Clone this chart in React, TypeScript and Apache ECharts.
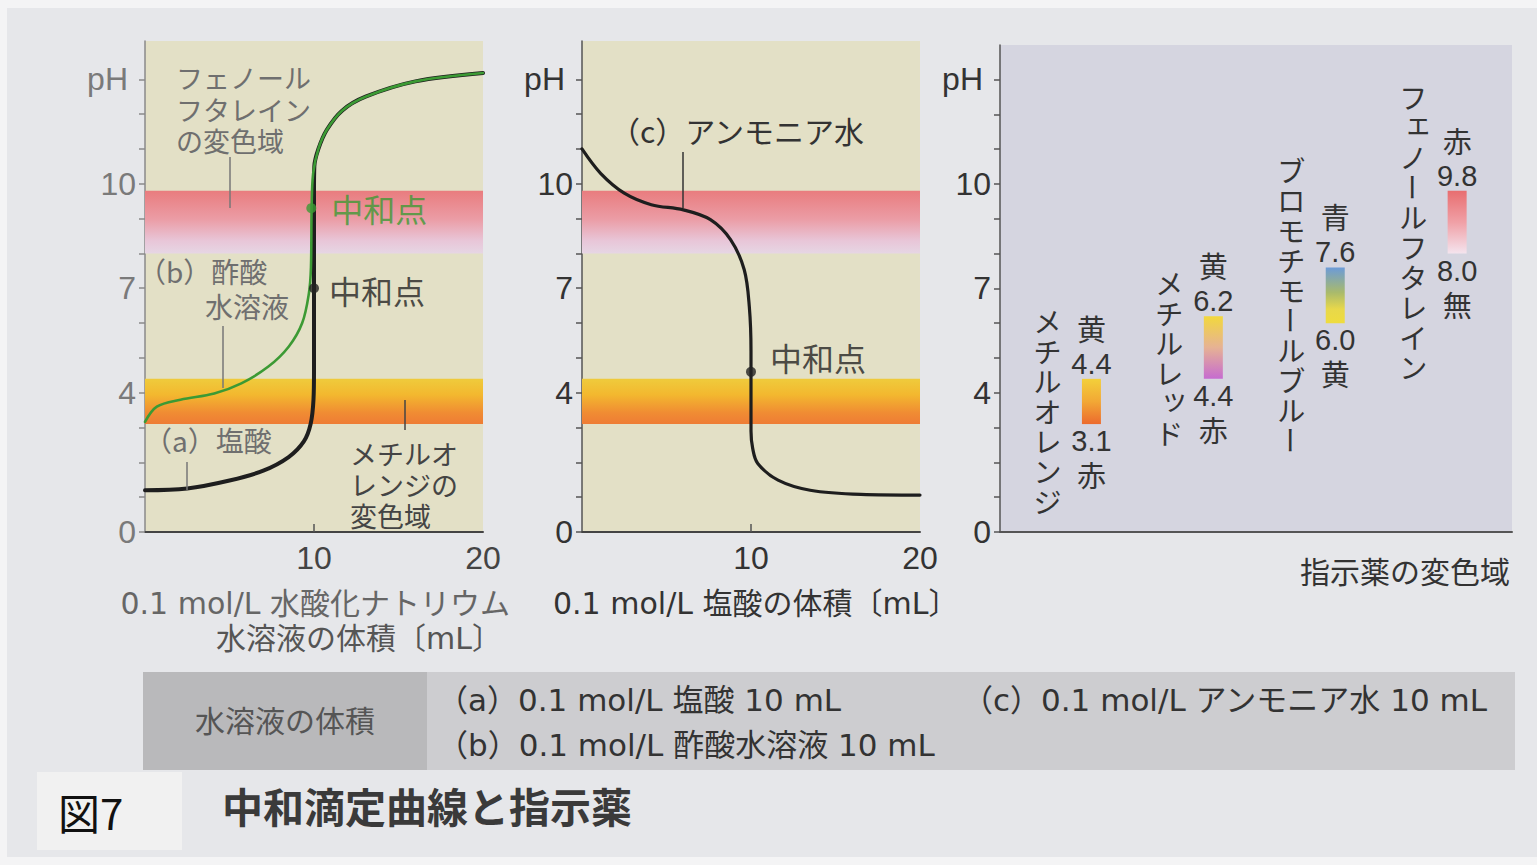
import React, { useEffect, useRef } from 'react';
import * as echarts from 'echarts';

const FONT = "'Liberation Sans', 'Noto Sans CJK JP', sans-serif";
const FONT_TEXT = "'DejaVu Sans', 'Noto Sans CJK JP', sans-serif";
const CJK = "'Noto Sans CJK JP', sans-serif";

// (a) 0.1 mol/L HCl titrated with 0.1 mol/L NaOH
const volA = [0, 2.5, 5, 7, 8.5, 9.4, 9.8, 9.97, 10, 10, 10.02, 10.26, 10.76, 11.66, 13.05, 16, 20];
const phA = [1.2, 1.25, 1.48, 1.76, 2.15, 2.6, 3.1, 3.8, 4.6, 9.8, 10.5, 11.0, 11.55, 12.1, 12.5, 12.94, 13.18];
// (b) 0.1 mol/L acetic acid titrated with NaOH
const volB = [0, 0.7, 2.1, 4.1, 5.7, 7.3, 8.5, 9.3, 9.7, 9.82, 9.86, 9.95, 10.26, 10.76, 11.66, 13.05, 16, 20];
const phB = [3.16, 3.6, 3.8, 3.98, 4.27, 4.75, 5.32, 6.0, 6.86, 7.6, 9.3, 10.3, 11.0, 11.55, 12.1, 12.5, 12.94, 13.18];
// (c) 0.1 mol/L ammonia titrated with 0.1 mol/L HCl
const volC = [0, 1.1, 2.5, 4.1, 6, 7.6, 8.8, 9.6, 9.9, 10, 10, 10.1, 10.4, 11.6, 13.5, 16.5, 20];
const phC = [11.0, 10.3, 9.73, 9.4, 9.25, 8.97, 8.39, 7.53, 6.47, 5.2, 2.9, 2.4, 1.97, 1.49, 1.2, 1.08, 1.06];

// neutralization points
const eqB = [9.84, 9.3];
const eqA = [10, 7];
const eqC = [10, 4.6];
const eqLabel = '中和点';

// indicator bands drawn across the titration panels
const bandLow = [3.1, 8.0];
const bandHigh = [4.4, 9.8];

// indicators (right panel)
const indicatorNames = ['メチルオレンジ', 'メチルレッド', 'ブロモチモールブルー', 'フェノールフタレイン'];
const indicatorLow = [3.1, 4.4, 6.0, 8.0];
const indicatorHigh = [4.4, 6.2, 7.6, 9.8];
const indicatorLowColorName = ['赤', '赤', '黄', '無'];
const indicatorHighColorName = ['黄', '黄', '青', '赤'];

// axes
const yTickValues = [0, 1, 2, 3, 4, 5, 6, 7, 8, 9, 10, 11, 12, 13];
const yLabelValues = [0, 4, 7, 10, 13];
const yNameValue = 13;
const yName = 'pH';
const xLabelValues = [10, 20];
const xTickValues = [10];

// styles
const bandGradients = [
  [
    { offset: 0, color: '#efcb3c' },
    { offset: 0.35, color: '#f3b82f' },
    { offset: 0.75, color: '#f08c33' },
    { offset: 1, color: '#ee7c35' },
  ],
  [
    { offset: 0, color: '#e97c7e' },
    { offset: 0.45, color: '#eb9ca5' },
    { offset: 0.8, color: '#e8c6d8' },
    { offset: 1, color: '#e6d6e4' },
  ],
];
const indicatorGradients = [
  [
    { offset: 0, color: '#f3d03a' },
    { offset: 0.5, color: '#f2a835' },
    { offset: 1, color: '#ec6a2e' },
  ],
  [
    { offset: 0, color: '#f2d83c' },
    { offset: 0.5, color: '#e6b294' },
    { offset: 1, color: '#c66bd0' },
  ],
  [
    { offset: 0, color: '#6c9bd8' },
    { offset: 0.45, color: '#a9ba6c' },
    { offset: 0.75, color: '#e8d84a' },
    { offset: 1, color: '#efdc3e' },
  ],
  [
    { offset: 0, color: '#e86e70' },
    { offset: 0.5, color: '#f0a0a6' },
    { offset: 1, color: '#f4e4ee' },
  ],
];

const SMALL_KANA = 'ァィゥェォッャュョ';

function txt(text: string, x: number, y: number, o: any = {}) {
  const align = o.align || 'left';
  return {
    type: 'text',
    x,
    y,
    z: 10,
    style: {
      text,
      fill: o.fill || '#333',
      fontSize: o.fontSize || 28,
      fontFamily: o.fontFamily || FONT_TEXT,
      fontWeight: o.fontWeight || 'normal',
      align,
      textAlign: align,
      verticalAlign: 'middle',
      textVerticalAlign: 'middle',
    },
  };
}
function leader(x: number, y1: number, y2: number, color = '#555') {
  return { type: 'line', z: 10, shape: { x1: x, y1, x2: x, y2 }, style: { stroke: color, lineWidth: 1.5 } };
}

function yAxisCfg(gridIndex: number, max: number, labelColor: string, lineColor: string) {
  return {
    type: 'value',
    gridIndex,
    min: 0,
    max,
    interval: 1,
    axisLine: { show: true, onZero: false, lineStyle: { color: lineColor, width: 1.5 } },
    axisTick: { show: true, inside: false, length: 6, customValues: yTickValues, lineStyle: { color: lineColor, width: 1.5 } },
    axisLabel: {
      show: true,
      customValues: yLabelValues,
      formatter: (v: number) => (v === yNameValue ? '{p|' + yName + '}' : String(v)),
      color: labelColor,
      fontSize: 32,
      fontFamily: FONT,
      margin: 9,
      rich: { p: { padding: [0, 8, 0, 0], fontSize: 32, color: labelColor, fontFamily: FONT } },
    },
    splitLine: { show: false },
  };
}
function xAxisCfg(gridIndex: number, labelColor: string) {
  return {
    type: 'value',
    gridIndex,
    min: 0,
    max: 20,
    axisLine: { show: true, onZero: false, lineStyle: { color: '#444', width: 2 } },
    axisTick: { show: true, inside: true, length: 8, customValues: xTickValues, lineStyle: { color: '#555', width: 1.5 } },
    axisLabel: { show: true, customValues: xLabelValues, color: labelColor, fontSize: 32, fontFamily: FONT, margin: 10 },
    splitLine: { show: false },
  };
}

function bandSeries(idx: number) {
  return {
    type: 'custom',
    xAxisIndex: idx,
    yAxisIndex: idx,
    z: 1,
    silent: true,
    encode: { x: 0, y: [1, 2] },
    data: bandLow.map((lo, i) => [i, lo, bandHigh[i]]),
    renderItem: (params: any, api: any) => {
      const cs = params.coordSys;
      const i = api.value(0);
      const yTop = api.coord([0, api.value(2)])[1];
      const yBot = api.coord([0, api.value(1)])[1];
      return {
        type: 'rect',
        shape: { x: cs.x, y: yTop, width: cs.width, height: yBot - yTop },
        style: { fill: new echarts.graphic.LinearGradient(0, 0, 0, 1, bandGradients[i]) },
      };
    },
  };
}

function curve(idx: number, vols: number[], phs: number[], color: string, width: number, z: number) {
  return {
    type: 'line',
    xAxisIndex: idx,
    yAxisIndex: idx,
    z,
    smooth: 0.35,
    showSymbol: false,
    silent: true,
    lineStyle: { color, width, cap: 'round', join: 'round' },
    data: vols.map((v, i) => [v, phs[i]]),
  };
}

function eqPoint(idx: number, pt: number[], color: string, distance: number, dy = 0) {
  return {
    type: 'scatter',
    xAxisIndex: idx,
    yAxisIndex: idx,
    z: 6,
    symbolSize: 10,
    itemStyle: { color },
    label: { show: true, position: 'right', distance, offset: [0, dy], formatter: eqLabel, color, fontSize: 32, fontFamily: CJK },
    data: [pt],
  };
}

function vText(text: string, x: number, y: number, extra: any = {}) {
  return {
    type: 'text',
    x,
    y,
    ...extra,
    style: {
      text,
      fill: '#333',
      fontSize: 29,
      fontFamily: FONT,
      align: 'center',
      textAlign: 'center',
      verticalAlign: 'middle',
      textVerticalAlign: 'middle',
      ...(extra.style || {}),
    },
  };
}

function indicatorSeries() {
  return {
    type: 'custom',
    xAxisIndex: 2,
    yAxisIndex: 2,
    z: 3,
    silent: true,
    encode: { x: 0, y: [1, 2] },
    data: indicatorNames.map((n, i) => [i, indicatorLow[i], indicatorHigh[i]]),
    renderItem: (params: any, api: any) => {
      const i = api.value(0);
      const top = api.coord([i, api.value(2)]);
      const bot = api.coord([i, api.value(1)]);
      const cx = top[0];
      const w = 19;
      const children: any[] = [
        {
          type: 'rect',
          shape: { x: cx - w / 2, y: top[1], width: w, height: bot[1] - top[1] },
          style: { fill: new echarts.graphic.LinearGradient(0, 0, 0, 1, indicatorGradients[i]) },
        },
      ];
      children.push(vText(indicatorHighColorName[i], cx, top[1] - 51, { style: { fontFamily: CJK } }));
      children.push(vText(api.value(2).toFixed(1), cx, top[1] - 15));
      children.push(vText(api.value(1).toFixed(1), cx, bot[1] + 17));
      children.push(vText(indicatorLowColorName[i], cx, bot[1] + 50, { style: { fontFamily: CJK } }));
      // vertical name: runs of characters stacked as multi-line text;
      // long-vowel marks are rotated, small kana shifted to the upper right
      const name = Array.from(indicatorNames[i]);
      const pitch = 30;
      const center = (top[1] + bot[1]) / 2 + 10;
      const y0 = center - ((name.length - 1) * pitch) / 2;
      const nx = cx - 44;
      let run: string[] = [];
      let runStart = 0;
      const flush = () => {
        if (run.length) {
          children.push({
            type: 'text',
            x: nx,
            y: y0 + runStart * pitch - pitch / 2,
            style: {
              text: run.join('\n'),
              fill: '#333',
              fontSize: 28,
              lineHeight: pitch,
              fontFamily: CJK,
              align: 'center',
              textAlign: 'center',
              verticalAlign: 'top',
              textVerticalAlign: 'top',
            },
          });
        }
        run = [];
      };
      name.forEach((ch, k) => {
        if (ch === 'ー') {
          flush();
          children.push(vText(ch, nx, y0 + k * pitch, { rotation: -Math.PI / 2, style: { fontFamily: CJK, fontSize: 28 } }));
        } else if (SMALL_KANA.includes(ch)) {
          flush();
          children.push(vText(ch, nx + 5, y0 + k * pitch - 5, { style: { fontFamily: CJK, fontSize: 28 } }));
        } else {
          if (!run.length) runStart = k;
          run.push(ch);
        }
      });
      flush();
      return { type: 'group', children };
    },
  };
}

function buildOption() {
  const gray1 = '#6f6f6f';
  const graphic: any[] = [
    // scan border
    { type: 'rect', z: 20, shape: { x: 0, y: 0, width: 1537, height: 8 }, style: { fill: '#f4f4f5' } },
    { type: 'rect', z: 20, shape: { x: 0, y: 0, width: 7, height: 865 }, style: { fill: '#f4f4f5' } },
    { type: 'rect', z: 20, shape: { x: 0, y: 857, width: 1537, height: 8 }, style: { fill: '#f4f4f5' } },
    // panel 1 annotations
    txt('フェノール', 176, 77, { fill: gray1, fontSize: 27, fontFamily: CJK }),
    txt('フタレイン', 176, 109, { fill: gray1, fontSize: 27, fontFamily: CJK }),
    txt('の変色域', 176, 140, { fill: gray1, fontSize: 27, fontFamily: CJK }),
    leader(230, 157, 208, '#777'),
    txt('（b）酢酸', 138, 271, { fill: gray1, fontSize: 28, fontFamily: CJK }),
    txt('水溶液', 205, 306, { fill: gray1, fontSize: 28, fontFamily: CJK }),
    leader(223, 326, 388, '#777'),
    txt('（a）塩酸', 144, 440, { fill: gray1, fontSize: 28, fontFamily: CJK }),
    leader(187, 462, 490, '#777'),
    txt('メチルオ', 350, 453, { fill: '#444', fontSize: 27, fontFamily: CJK }),
    txt('レンジの', 350, 484, { fill: '#444', fontSize: 27, fontFamily: CJK }),
    txt('変色域', 350, 515, { fill: '#444', fontSize: 27, fontFamily: CJK }),
    leader(405, 400, 430, '#444'),
    // panel 2 annotation
    txt('（c）アンモニア水', 610, 130, { fill: '#333', fontSize: 30, fontFamily: CJK }),
    leader(683, 152, 208, '#333'),
    // axis names
    txt('0.1 mol/L 水酸化ナトリウム', 510, 603, { fill: '#666', fontSize: 30, align: 'right' }),
    txt('水溶液の体積〔mL〕', 502, 638, { fill: '#555', fontSize: 30, align: 'right' }),
    txt('0.1 mol/L 塩酸の体積〔mL〕', 553, 603, { fill: '#333', fontSize: 30 }),
    txt('指示薬の変色域', 1510, 570, { fill: '#333', fontSize: 30, align: 'right', fontFamily: CJK }),
    // table
    { type: 'rect', z: 5, shape: { x: 143, y: 672, width: 1372, height: 98 }, style: { fill: '#cdcdd0' } },
    { type: 'rect', z: 6, shape: { x: 143, y: 672, width: 284, height: 98 }, style: { fill: '#b9b9bb' } },
    txt('水溶液の体積', 285, 719, { fill: '#555', fontSize: 30, align: 'center', fontFamily: CJK }),
    txt('（a）0.1 mol/L 塩酸 10 mL', 437, 700, { fill: '#333', fontSize: 31 }),
    txt('（b）0.1 mol/L 酢酸水溶液 10 mL', 437, 745, { fill: '#333', fontSize: 31 }),
    txt('（c）0.1 mol/L アンモニア水 10 mL', 962, 700, { fill: '#333', fontSize: 31 }),
    // title
    { type: 'rect', z: 5, shape: { x: 37, y: 772, width: 145, height: 78 }, style: { fill: '#f1f1f1' } },
    txt('図7', 58, 811, { fill: '#111', fontSize: 42, fontFamily: CJK }),
    txt('中和滴定曲線と指示薬', 222, 805, { fill: '#3a3a3a', fontSize: 41, fontWeight: 'bold', fontFamily: CJK }),
  ];

  return {
    animation: false,
    backgroundColor: '#e6e7ea',
    textStyle: { fontFamily: FONT },
    grid: [
      { left: 145, top: 41, width: 338, height: 491, show: true, backgroundColor: '#e3e0c6', borderWidth: 0, outerBoundsMode: 'none', containLabel: false },
      { left: 582, top: 41, width: 338, height: 491, show: true, backgroundColor: '#e3e0c6', borderWidth: 0, outerBoundsMode: 'none', containLabel: false },
      { left: 1000, top: 45, width: 512, height: 487, show: true, backgroundColor: '#d5d5e0', borderWidth: 0, outerBoundsMode: 'none', containLabel: false },
    ],
    xAxis: [
      xAxisCfg(0, '#444'),
      xAxisCfg(1, '#333'),
      {
        type: 'value',
        gridIndex: 2,
        min: -0.75,
        max: 3.45,
        axisLine: { show: true, onZero: false, lineStyle: { color: '#555', width: 2 } },
        axisTick: { show: false },
        axisLabel: { show: false },
        splitLine: { show: false },
      },
    ],
    yAxis: [yAxisCfg(0, 14.1, '#7a7a7a', '#8a8a8a'), yAxisCfg(1, 14.1, '#333', '#555'), yAxisCfg(2, 13.99, '#333', '#555')],
    series: [
      bandSeries(0),
      bandSeries(1),
      curve(0, volA, phA, '#1e1e1e', 4, 3),
      curve(0, volB, phB, '#3c9a34', 2.6, 4),
      eqPoint(0, eqB, '#3c9a34', 15),
      eqPoint(0, eqA, '#222', 10, 2),
      curve(1, volC, phC, '#1e1e1e', 3.2, 3),
      eqPoint(1, eqC, '#222', 14, -15),
      indicatorSeries(),
    ],
    graphic,
  };
}

export default function App() {
  const ref = useRef<HTMLDivElement>(null);
  useEffect(() => {
    const chart = echarts.init(ref.current!, null, { renderer: 'svg' });
    chart.setOption(buildOption() as any);
    return () => chart.dispose();
  }, []);
  return <div ref={ref} style={{ position: 'fixed', left: 0, top: 0, width: 1537, height: 865 }} />;
}
